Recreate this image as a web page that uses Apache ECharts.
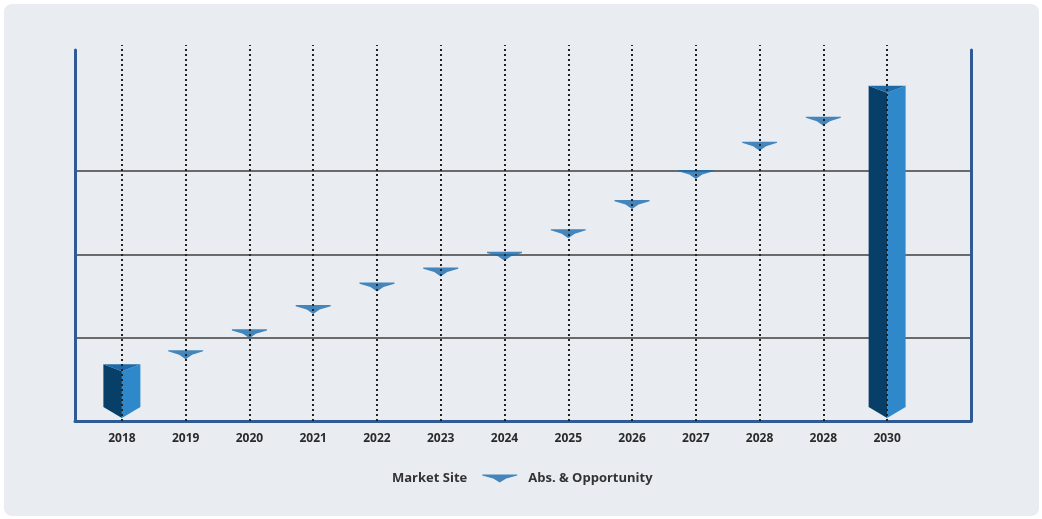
<!DOCTYPE html>
<html>
<head>
<meta charset="utf-8">
<script src="https://cdn.jsdelivr.net/npm/echarts@6/dist/echarts.min.js"></script>
<style>
  html, body { margin: 0; padding: 0; background: #fff; }
  #chart { width: 1042px; height: 519px; }
</style>
</head>
<body>
<div id="chart"></div>
<script>
// categories as printed on the chart (the second 2028 is how the source labels it)
const years = ['2018', '2019', '2020', '2021', '2022', '2023', '2024', '2025', '2026', '2027', '2028', '2028', '2030']
// bars only for the first and last year
const marketSite = [6.8, null, null, null, null, null, null, null, null, null, null, null, 40.2]
const absOpportunity = [null, 8.5, 11.0, 13.9, 16.6, 18.4, 20.3, 23.0, 26.5, 30.1, 33.5, 36.5, null]
const gridLevels = [0, 1, 2, 3]

const markerPath = 'path://M0,0 L35,0 L35,1 L24,4 L17.5,8 L11,4 L0,1 Z'
const frameColor = '#2f5b95'

const chart = echarts.init(document.getElementById('chart'))

function renderPrism(params, api) {
  const idx = api.value(0)
  const top = api.coord([idx, api.value(1)])
  const base = api.coord([idx, 0])
  const w = api.size([1, 0])[0] * 0.29
  const cx = top[0]
  const yt = top[1]
  const yb = base[1] - 3
  return {
    type: 'group',
    children: [
      {
        type: 'polygon',
        shape: { points: [[cx - w, yt], [cx, yt + 7], [cx, yb], [cx - w, yb - 11]] },
        style: { fill: '#083f68' }
      },
      {
        type: 'polygon',
        shape: { points: [[cx + w, yt], [cx, yt + 7], [cx, yb], [cx + w, yb - 11]] },
        style: { fill: '#2f88ca' }
      },
      {
        type: 'polygon',
        shape: { points: [[cx - w, yt], [cx + w, yt], [cx, yt + 7]] },
        style: { fill: '#1c6aa8' }
      }
    ]
  }
}

chart.setOption({
  backgroundColor: '#ffffff',
  animation: false,
  graphic: [{
    type: 'rect',
    left: 4,
    top: 4,
    shape: { width: 1035, height: 512, r: 8 },
    style: { fill: '#e9edf1' },
    z: -10
  }],
  legend: {
    left: 341,
    top: 467,
    itemWidth: 35,
    itemHeight: 9,
    itemGap: 15,
    textStyle: {
      fontFamily: 'Open Sans', fontWeight: 'bold', fontSize: 13, color: '#333',
      padding: [0, 0, 0, 6]
    },
    data: [
      { name: 'Market Site', itemStyle: { opacity: 0 } },
      { name: 'Abs. & Opportunity', icon: markerPath, itemStyle: { color: '#1a6cae' } }
    ]
  },
  grid: [
    // frame
    { left: 75, right: 71, top: 50, bottom: 98 },
    // horizontal guide lines
    { left: 75, right: 71, top: 171, bottom: 98 },
    // data
    { left: 90, right: 123, top: 45, bottom: 98 }
  ],
  xAxis: [
    {
      gridIndex: 0, type: 'value', min: 0, max: 1,
      axisLine: { show: true, onZero: false, lineStyle: { color: frameColor, width: 3 } },
      axisTick: { show: false }, axisLabel: { show: false }, splitLine: { show: false }
    },
    {
      gridIndex: 1, type: 'value', min: 0, max: 1, show: false
    },
    {
      gridIndex: 2, type: 'category', data: years,
      axisLine: { show: false }, axisTick: { show: false }, splitLine: { show: false },
      axisLabel: {
        margin: 12, interval: 0,
        fontFamily: 'Open Sans', fontWeight: 'bold', fontSize: 12, color: '#2a2a2a'
      }
    }
  ],
  yAxis: [
    {
      gridIndex: 0, type: 'value', min: 0, max: 1, position: 'left',
      axisLine: { show: true, onZero: false, lineStyle: { color: frameColor, width: 3 } },
      axisTick: { show: false }, axisLabel: { show: false }, splitLine: { show: false }
    },
    {
      gridIndex: 0, type: 'value', min: 0, max: 1, position: 'right',
      axisLine: { show: true, onZero: false, lineStyle: { color: frameColor, width: 3 } },
      axisTick: { show: false }, axisLabel: { show: false }, splitLine: { show: false }
    },
    {
      gridIndex: 1, type: 'value', min: gridLevels[0], max: gridLevels[gridLevels.length - 1], interval: 1,
      axisLine: { show: false }, axisTick: { show: false }, axisLabel: { show: false },
      splitLine: { show: true, lineStyle: { color: '#6a6a6a', width: 2 } }
    },
    {
      gridIndex: 2, type: 'value', min: 0, max: 45.1, show: false
    }
  ],
  series: [
    {
      // dotted verticals at every category
      type: 'line',
      xAxisIndex: 2,
      yAxisIndex: 3,
      data: [],
      z: 1,
      markLine: {
        silent: true,
        symbol: 'none',
        label: { show: false },
        lineStyle: { color: '#222', width: 2, type: [2, 3] },
        data: years.map((_, i) => ({ xAxis: i }))
      }
    },
    {
      name: 'Market Site',
      type: 'custom',
      xAxisIndex: 2,
      yAxisIndex: 3,
      z: 3,
      itemStyle: { color: '#2f88ca' },
      renderItem: renderPrism,
      data: marketSite.map((v, i) => [i, v]).filter(d => d[1] != null)
    },
    {
      name: 'Abs. & Opportunity',
      type: 'scatter',
      xAxisIndex: 2,
      yAxisIndex: 3,
      z: 4,
      symbol: markerPath,
      symbolSize: [35, 9],
      symbolOffset: [0, '50%'],
      itemStyle: { color: '#1a6cae' },
      data: absOpportunity.map(v => (v == null ? '-' : v))
    }
  ]
})
</script>
</body>
</html>
